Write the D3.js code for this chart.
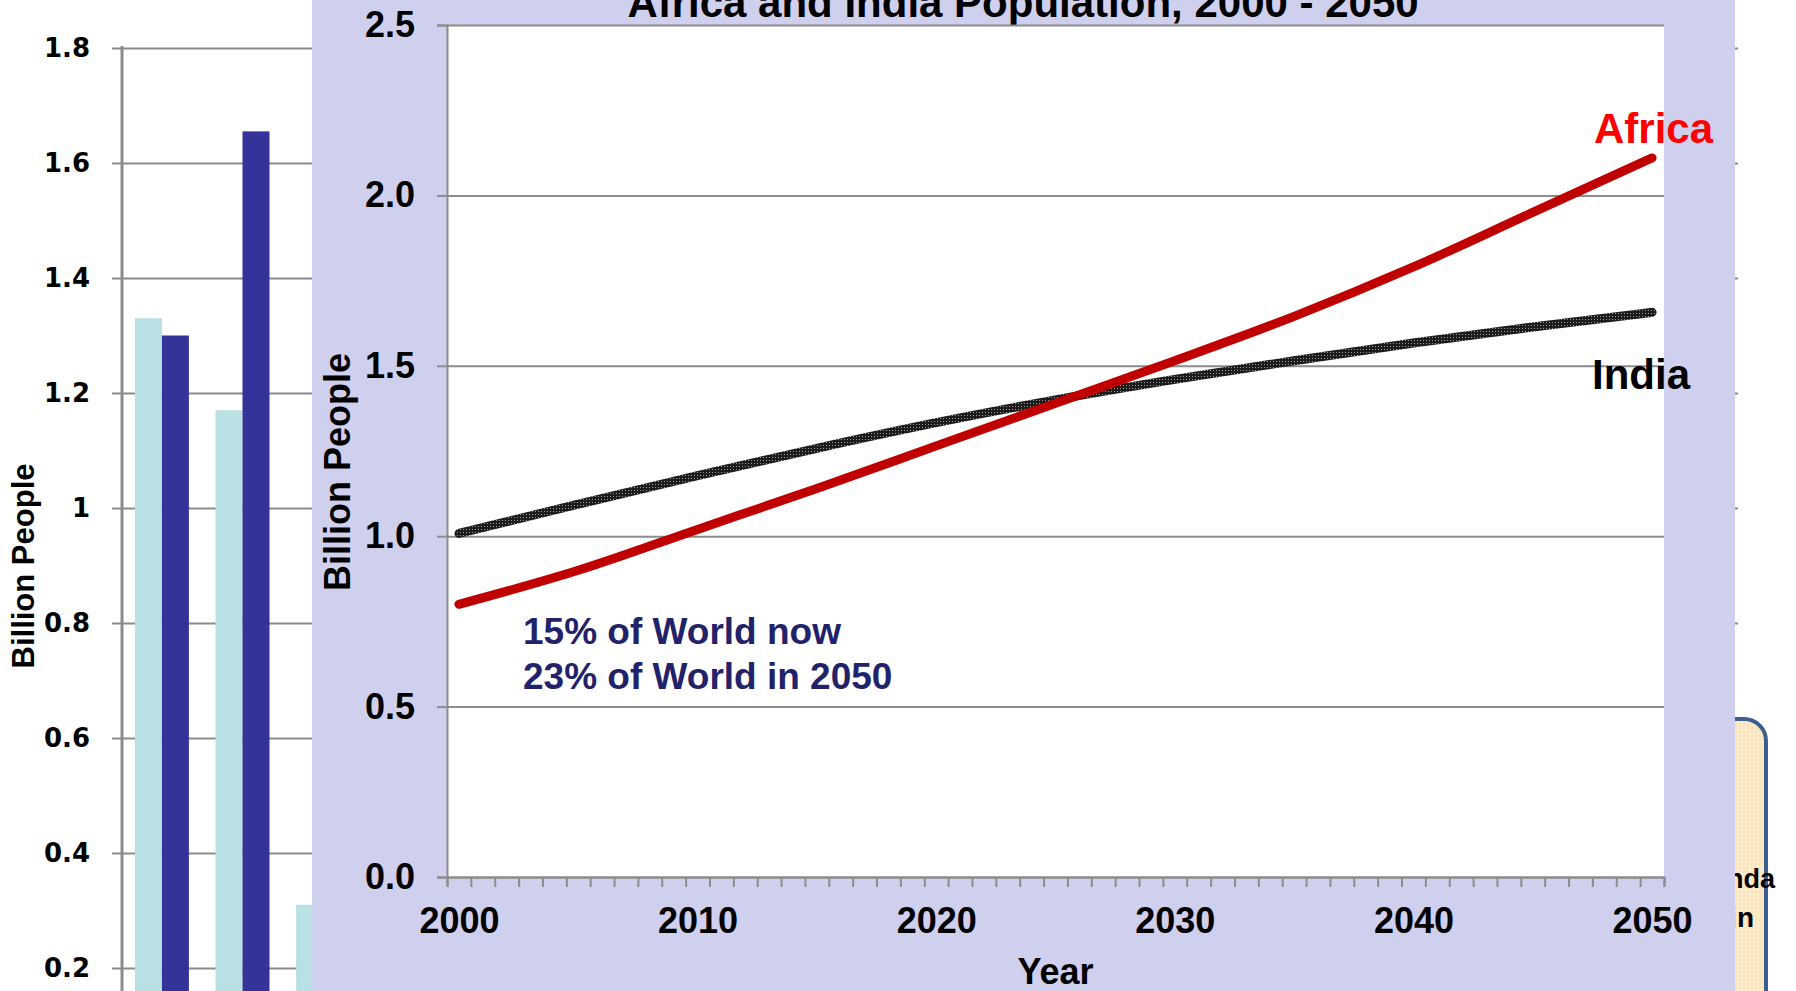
<!DOCTYPE html>
<html>
<head>
  <meta charset="utf-8">
  <title>Africa and India Population, 2000 - 2050</title>
  <style>
    html, body { margin: 0; padding: 0; background: #fff; }
    svg { display: block; font-family: "Liberation Sans", Arial, sans-serif; font-weight: bold; }
    .back-axis text { font-family: "DejaVu Sans", sans-serif; font-size: 26px; font-weight: bold; fill: #000; }
    .back-axis path { display: none; }
    .back-axis line { stroke: #8c8c8c; stroke-width: 2; }
    .grid path { display: none; }
    .grid line { stroke: #8c8c8c; stroke-width: 2; }
    .axis text { font-size: 36px; font-weight: bold; fill: #000; }
    .axis path, .axis line { stroke: #8c8c8c; stroke-width: 2; }
  </style>
  <script src="https://d3js.org/d3.v7.min.js"></script>
</head>
<body>
<svg width="1796" height="991"></svg>
<script>
// bar chart behind the panel
var barCategories = ["China", "India", "USA"];
var barNow = [1.33, 1.17, 0.31];
var bar2050 = [1.30, 1.655, 0.42];
var barTicks = [0.2, 0.4, 0.6, 0.8, 1, 1.2, 1.4, 1.6, 1.8];

// line chart in front
var years = [2000, 2005, 2010, 2015, 2020, 2025, 2030, 2035, 2040, 2045, 2050];
var africa = [0.80, 0.90, 1.02, 1.14, 1.265, 1.39, 1.515, 1.645, 1.79, 1.95, 2.11];
var india = [1.008, 1.094, 1.178, 1.258, 1.333, 1.40, 1.46, 1.515, 1.567, 1.614, 1.657];
var yearLabels = [2000, 2010, 2020, 2030, 2040, 2050];
var popTicks = [0, 0.5, 1.0, 1.5, 2.0, 2.5];

var svg = d3.select("svg");
var defs = svg.append("defs");

// stippled stroke for the India line
var hatch = defs.append("pattern")
    .attr("id", "hatch")
    .attr("patternUnits", "userSpaceOnUse")
    .attr("width", 3).attr("height", 3);
hatch.append("rect").attr("width", 3).attr("height", 3).attr("fill", "#1c1c1c");
hatch.append("rect").attr("x", 1).attr("y", 1).attr("width", 1).attr("height", 1).attr("fill", "#9a9a9a");

// peach texture for the callout box
var peach = defs.append("pattern")
    .attr("id", "peach")
    .attr("patternUnits", "userSpaceOnUse")
    .attr("width", 4).attr("height", 4);
peach.append("rect").attr("width", 4).attr("height", 4).attr("fill", "#fde6bd");
peach.append("rect").attr("x", 1).attr("y", 1).attr("width", 2).attr("height", 2).attr("fill", "#fff1d8");

// ---------- background bar chart ----------
var by = d3.scaleLinear().domain([0.2, 1.8]).range([968, 48]);
var bx0 = d3.scaleBand().domain(barCategories).range([122, 363])
    .paddingInner(0.33).paddingOuter(0.16);
var bx1 = d3.scaleBand().domain(["now", "2050"]).range([0, bx0.bandwidth()]);

var back = svg.append("g");

back.append("g")
    .attr("class", "back-axis")
    .attr("transform", "translate(122,0)")
    .call(d3.axisLeft(by).tickValues(barTicks).tickSize(10).tickPadding(22)
        .tickFormat(function(d) { return d3.format("")(d); }))
    .selectAll(".tick line").attr("x2", 1616).attr("x1", -10);

back.append("line")
    .attr("x1", 122).attr("x2", 122).attr("y1", 46).attr("y2", 991)
    .attr("stroke", "#8c8c8c").attr("stroke-width", 3);

var groups = back.selectAll(".grp")
    .data(barCategories)
  .enter().append("g")
    .attr("transform", function(d) { return "translate(" + bx0(d) + ",0)"; });

groups.append("rect")
    .attr("x", bx1("now"))
    .attr("y", function(d, i) { return by(barNow[i]); })
    .attr("width", bx1.bandwidth())
    .attr("height", function(d, i) { return 1100 - by(barNow[i]); })
    .attr("fill", "#b9e0e3");

groups.append("rect")
    .attr("x", bx1("2050"))
    .attr("y", function(d, i) { return by(bar2050[i]); })
    .attr("width", bx1.bandwidth())
    .attr("height", function(d, i) { return 1100 - by(bar2050[i]); })
    .attr("fill", "#333399");

back.append("text")
    .attr("transform", "translate(34,566) rotate(-90)")
    .attr("text-anchor", "middle")
    .style("font-size", "31px")
    .text("Billion People");

// callout box on the right, mostly hidden
back.append("rect")
    .attr("x", 1600).attr("y", 719).attr("width", 166).attr("height", 320)
    .attr("rx", 22)
    .attr("fill", "url(#peach)")
    .attr("stroke", "#3c5f8e").attr("stroke-width", 4);
back.append("text").attr("x", 1775).attr("y", 888).attr("text-anchor", "end")
    .style("font-size", "27px").text("Uganda");
back.append("text").attr("x", 1754).attr("y", 927).attr("text-anchor", "end")
    .style("font-size", "28px").text("in");

// ---------- front panel ----------
var margin = {left: 447, right: 1664, top: 25, bottom: 877};
var x = d3.scaleLinear().domain([1999.5, 2050.5]).range([margin.left, margin.right]);
var y = d3.scaleLinear().domain([0, 2.5]).range([margin.bottom, margin.top]);

var front = svg.append("g");

front.append("rect")
    .attr("x", 312).attr("y", 0).attr("width", 1735 - 312).attr("height", 991)
    .attr("fill", "#cfcfee");

front.append("rect")
    .attr("x", margin.left).attr("y", margin.top)
    .attr("width", margin.right - margin.left).attr("height", margin.bottom - margin.top)
    .attr("fill", "#fff");

front.append("text")
    .attr("x", 1023).attr("y", 17)
    .attr("text-anchor", "middle")
    .style("font-size", "42px")
    .text("Africa and India Population, 2000 - 2050");

// gridlines
front.append("g")
    .attr("class", "grid")
    .attr("transform", "translate(" + margin.left + ",0)")
    .call(d3.axisLeft(y).tickValues(popTicks).tickSize(-(margin.right - margin.left)).tickFormat(""));

// y axis
front.append("g")
    .attr("class", "axis")
    .attr("transform", "translate(" + margin.left + ",0)")
    .call(d3.axisLeft(y).tickValues(popTicks).tickSize(10).tickPadding(22)
        .tickFormat(d3.format(".1f")));

// x axis: a tick between every year, labels every ten years
front.append("g")
    .attr("class", "axis")
    .attr("transform", "translate(0," + margin.bottom + ")")
    .call(d3.axisBottom(x).tickValues(d3.range(1999.5, 2051, 1)).tickSize(10).tickFormat(""));

front.append("g")
    .attr("class", "axis")
    .attr("transform", "translate(0," + margin.bottom + ")")
    .call(d3.axisBottom(x).tickValues(yearLabels).tickSize(0).tickPadding(30)
        .tickFormat(d3.format("d")))
    .call(function(g) { g.select(".domain").remove(); });

front.append("text")
    .attr("x", (margin.left + margin.right) / 2).attr("y", 984)
    .attr("text-anchor", "middle")
    .style("font-size", "36px")
    .text("Year");

front.append("text")
    .attr("transform", "translate(350,472) rotate(-90)")
    .attr("text-anchor", "middle")
    .style("font-size", "36px")
    .text("Billion People");

var line = d3.line()
    .x(function(d) { return x(d[0]); })
    .y(function(d) { return y(d[1]); })
    .curve(d3.curveMonotoneX);

front.append("path")
    .datum(d3.zip(years, india))
    .attr("d", line)
    .attr("fill", "none")
    .attr("stroke", "url(#hatch)")
    .attr("stroke-width", 9)
    .attr("stroke-linecap", "round");

front.append("path")
    .datum(d3.zip(years, africa))
    .attr("d", line)
    .attr("fill", "none")
    .attr("stroke", "#c00000")
    .attr("stroke-width", 9)
    .attr("stroke-linecap", "round");

front.append("text")
    .attr("x", 1594).attr("y", 143)
    .attr("fill", "#ff0000")
    .style("font-size", "42px")
    .text("Africa");

front.append("text")
    .attr("x", 1592).attr("y", 389)
    .attr("fill", "#000")
    .style("font-size", "42px")
    .text("India");

var note = front.append("text")
    .attr("fill", "#22226a")
    .style("font-size", "37px");
note.append("tspan").attr("x", 523).attr("y", 644).text("15% of World now");
note.append("tspan").attr("x", 523).attr("y", 689).text("23% of World in 2050");
</script>
</body>
</html>
